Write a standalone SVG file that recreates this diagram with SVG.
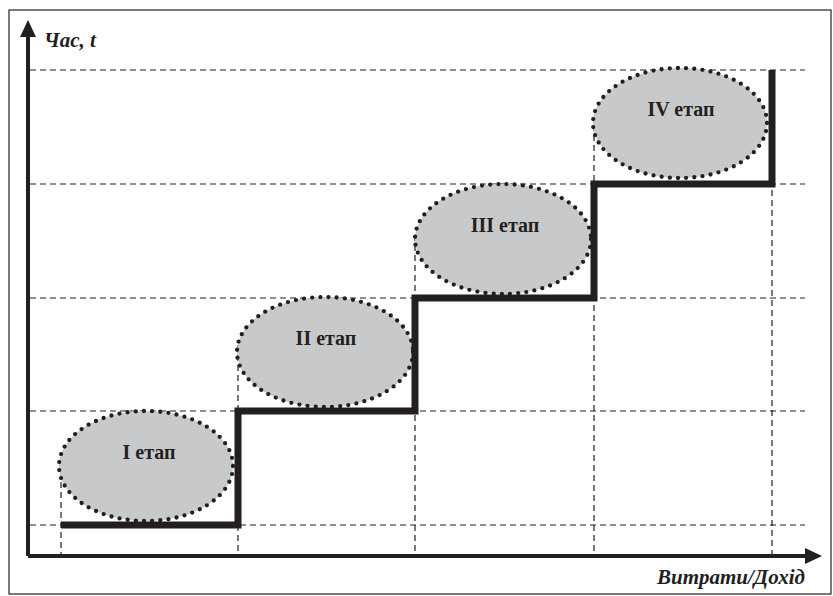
<svg xmlns="http://www.w3.org/2000/svg" width="833" height="596" viewBox="0 0 833 596">
<style>
.dash{stroke:#231f20;stroke-width:1.2;stroke-dasharray:6 4;fill:none}
.ell{fill:#c8c9cb;stroke:#231f20;stroke-width:4.3;stroke-dasharray:0 8.2;stroke-linecap:round}
.lbl{font-family:"Liberation Serif","Times New Roman",serif;font-weight:bold;font-size:20px;fill:#231f20;text-anchor:middle}
.ax{font-family:"Liberation Serif","Times New Roman",serif;font-weight:bold;font-style:italic;font-size:21px;fill:#231f20}
</style>
<rect x="9" y="10" width="822" height="584" fill="#fff" stroke="#231f20" stroke-width="1.2"/>
<g id="grid">
<path class="dash" d="M30,70H805M30,184H805M30,298H805M30,411H805M30,525H805"/>
<path class="dash" d="M61,462V556M238,345V556M415,235V556M594,125V556M772,70V556"/>
</g>
<g id="ellipse-1"><ellipse class="ell" cx="146" cy="466" rx="87" ry="55"/><text class="lbl" x="149" y="459">I етап</text></g>
<g id="ellipse-2"><ellipse class="ell" cx="325" cy="352" rx="88" ry="55"/><text class="lbl" x="326" y="345">II етап</text></g>
<g id="ellipse-3"><ellipse class="ell" cx="503" cy="239" rx="88" ry="55"/><text class="lbl" x="505" y="232">III етап</text></g>
<g id="ellipse-4"><ellipse class="ell" cx="680" cy="123" rx="87" ry="55"/><text class="lbl" x="681" y="116">IV етап</text></g>
<g id="connectors">
<path d="M61,525H238V411H415V298H594V184H772V70" fill="none" stroke="#231f20" stroke-width="7" stroke-linejoin="miter"/>
<path d="M28,556V34M28,556H808" fill="none" stroke="#231f20" stroke-width="4"/>
<polygon points="28,20 20,37 36,37" fill="#231f20"/>
<polygon points="822,556 805,548 805,564" fill="#231f20"/>
</g>
<text class="ax" x="44" y="47">Час, t</text>
<text class="ax" x="805" y="584" text-anchor="end">Витрати/Дохід</text>
</svg>
